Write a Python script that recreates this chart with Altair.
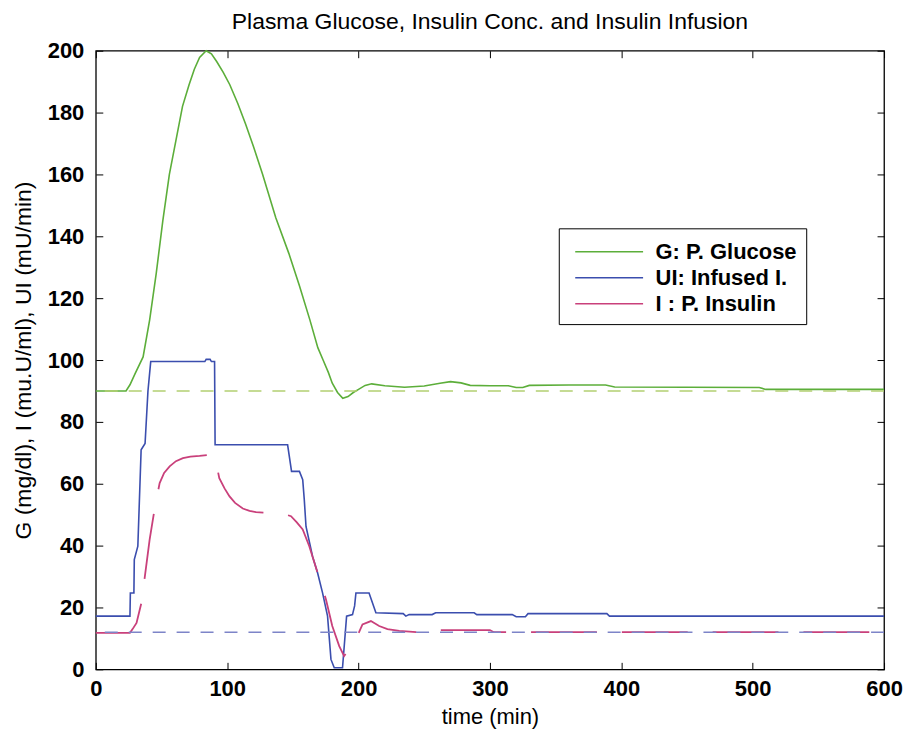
import altair as alt
import pandas as pd

# ---------------- data ----------------
SERIES = ["G: P. Glucose", "UI: Infused I.", "I : P. Insulin"]
COLORS = ["#5cae3a", "#3b4eae", "#c9407b"]
BASAL_COLORS = ["#b3cf72", "#7d84c8"]

G_BASAL = 90
I_BASAL = 12

X_TICKS = [0, 100, 200, 300, 400, 500, 600]
Y_TICKS = [0, 20, 40, 60, 80, 100, 120, 140, 160, 180, 200]

# (time [min], plasma glucose [mg/dl])
G_POINTS = [(0, 90), (23, 90), (26, 92), (30, 95.7), (36, 101), (41, 113), (46, 128),
            (51, 145), (56, 160), (61, 171), (66, 182), (71, 189), (75, 194), (79, 197.8),
            (84, 200), (88, 199), (92, 196.5), (97, 193), (102, 189), (108, 183),
            (114, 176.3), (120, 169), (127, 160), (137, 146), (147, 134.4), (155, 124),
            (163, 112.9), (169, 104), (173, 100), (177, 96), (180, 92.5), (184, 89.5),
            (188, 87.6), (192, 88.2), (196, 89.5), (200, 90.5), (205, 91.8), (210, 92.3),
            (220, 91.7), (235, 91.2), (250, 91.6), (262, 92.5), (270, 93), (278, 92.6),
            (285, 91.8), (300, 91.7), (314, 91.7), (320, 91.1), (325, 91.1), (330, 91.8),
            (360, 91.9), (388, 91.9), (395, 91.3), (450, 91.2), (505, 91.1), (510, 90.5),
            (600, 90.5)]

# (time [min], infused insulin [mU/min])
UI_POINTS = [(0, 17.2), (26, 17.2), (26.3, 24.7), (29, 24.7), (29.3, 35.5), (32, 39.8),
             (34.5, 71), (37.5, 73), (39.7, 90), (41.8, 99.5), (83, 99.5), (84, 100.2),
             (87, 100.2), (88, 99.5), (90.4, 99.5), (90.8, 72.6), (146, 72.6), (149, 64),
             (155, 64), (157.5, 61.3), (158.7, 54.8), (160, 46.2), (165, 36.5),
             (168.8, 31.2), (172.6, 24.7), (176.4, 17.2), (179, 3.2), (181.5, 0.5),
             (187.8, 0.5), (190.9, 17.2), (195.4, 17.7), (197, 20.5), (198, 24.7),
             (208, 24.7), (213.2, 18.3), (234, 18.0), (236, 17.2), (238.5, 17.7),
             (256, 17.7), (258.7, 18.3), (288, 18.3), (290, 17.7), (317, 17.7),
             (320, 17.0), (327, 17.0), (329, 18.0), (389, 18.0), (391, 17.2), (600, 17.2)]

# (time [min], plasma insulin [mu.U/ml])
I_POINTS = [(0, 11.8), (26, 11.8), (28, 13), (31, 15), (34.7, 21.5), (37.2, 29.6),
            (41, 42), (44.8, 52), (48.6, 60.2), (52, 63.5), (56.2, 65.6), (61, 67.3),
            (66.3, 68.3), (72, 68.8), (79, 69), (89, 69.4), (91, 68), (94, 61.8),
            (98, 58.5), (101.8, 55.9), (106, 53.8), (111.9, 52), (117, 51.2), (122, 50.8),
            (132, 50.5), (140, 50.5), (145, 50), (148.6, 49.5), (153, 47.5), (157.5, 45.2),
            (162.5, 39.8), (168.8, 31.2), (175.2, 22.6), (180, 14), (185.3, 7.5),
            (189, 4.3), (193, 6.5), (198, 9.7), (203, 14.5), (209.4, 15.6), (215.7, 14),
            (222, 13), (231, 12.4), (246, 12), (258, 12), (262, 12.7), (300, 12.7),
            (303, 12), (600, 12)]


def frame(points, name):
    return pd.DataFrame({
        "time": [p[0] for p in points],
        "value": [p[1] for p in points],
        "series": name,
        "idx": list(range(len(points))),
    })


df_main = pd.concat([frame(G_POINTS, SERIES[0]), frame(UI_POINTS, SERIES[1])], ignore_index=True)
df_i = frame(I_POINTS, SERIES[2])
df_base_g = pd.DataFrame({"value": [G_BASAL]})
df_base_i = pd.DataFrame({"value": [I_BASAL]})

FONT = "Liberation Sans"
W, H = 790, 620

xs = alt.Scale(domain=[0, 600], nice=False, zero=False)
ys = alt.Scale(domain=[0, 200], nice=False, zero=False)

main_x_axis = alt.Axis(values=X_TICKS, ticks=False, tickSize=0, domain=False, grid=False,
                       labelFont=FONT, labelFontSize=22, labelFontWeight="bold",
                       labelColor="black", labelPadding=9, labelFlush=False,
                       labelOverlap=False, title="time (min)", titleFont=FONT,
                       titleFontSize=22, titleFontWeight="normal", titleColor="black",
                       titlePadding=7)
main_y_axis = alt.Axis(values=Y_TICKS, ticks=False, tickSize=0, domain=False, grid=False,
                       labelFont=FONT, labelFontSize=22, labelFontWeight="bold",
                       labelColor="black", labelPadding=12, labelFlush=False,
                       labelOverlap=False, title="G (mg/dl), I (mu.U/ml), UI (mU/min)",
                       titleFont=FONT, titleFontSize=23, titleFontWeight="normal",
                       titleColor="black", titlePadding=12)


def tick_axis(values, orient, offset):
    return alt.Axis(values=values, orient=orient, offset=offset, ticks=True, tickSize=7,
                    tickColor="black", tickWidth=1, labels=False, domain=False,
                    grid=False, title=None)


legend = alt.Legend(title=None, orient="none", legendX=464, legendY=178,
                    direction="vertical", symbolType="M-2.5,0H2.5", symbolSize=740,
                    symbolStrokeWidth=1.5, symbolOffset=27, labelFont=FONT,
                    labelFontSize=22, labelFontWeight="bold", labelColor="black",
                    labelOffset=32, rowPadding=0, padding=9, strokeColor="black",
                    fillColor="white")

lines = alt.Chart(df_main).mark_line(strokeWidth=1.6).encode(
    x=alt.X("time:Q", scale=xs, axis=main_x_axis),
    y=alt.Y("value:Q", scale=ys, axis=main_y_axis),
    color=alt.Color("series:N", scale=alt.Scale(domain=SERIES, range=COLORS), legend=legend),
    order=alt.Order("idx:Q"),
)

insulin = alt.Chart(df_i).mark_line(strokeWidth=1.8, strokeDash=[66, 25]).encode(
    x=alt.X("time:Q", scale=xs, axis=None),
    y=alt.Y("value:Q", scale=ys, axis=None),
    color=alt.value(COLORS[2]),
    order=alt.Order("idx:Q"),
)

base_g = alt.Chart(df_base_g).mark_rule(strokeWidth=1.5, strokeDash=[13, 11]).encode(
    y=alt.Y("value:Q", scale=ys, axis=None),
    color=alt.value(BASAL_COLORS[0]),
)
base_i = alt.Chart(df_base_i).mark_rule(strokeWidth=1.5, strokeDash=[13, 11]).encode(
    y=alt.Y("value:Q", scale=ys, axis=None),
    color=alt.value(BASAL_COLORS[1]),
)

ticks_a = alt.Chart(df_main).mark_point(opacity=0).encode(
    x=alt.X("time:Q", scale=xs, axis=tick_axis(X_TICKS, "top", -H)),
    y=alt.Y("value:Q", scale=ys, axis=tick_axis(Y_TICKS, "right", -W)),
)
ticks_b = alt.Chart(df_main).mark_point(opacity=0).encode(
    x=alt.X("time:Q", scale=xs, axis=tick_axis(X_TICKS, "bottom", -H)),
    y=alt.Y("value:Q", scale=ys, axis=tick_axis(Y_TICKS, "left", -W)),
)

chart = alt.layer(lines, insulin, base_g, base_i, ticks_a, ticks_b).resolve_axis(
    x="independent", y="independent"
).properties(
    width=W,
    height=H,
    title=alt.TitleParams(text="Plasma Glucose, Insulin Conc. and Insulin Infusion",
                          font=FONT, fontSize=23, fontWeight="normal", color="black",
                          anchor="middle", offset=6, frame="group"),
    autosize=alt.AutoSizeParams(type="none"),
    padding={"left": 88, "top": 42, "right": 20, "bottom": 60},
    background="white",
).configure_view(stroke="black", strokeWidth=1.3)

chart.save("out.html", embed_options={"renderer": "svg", "actions": False})
